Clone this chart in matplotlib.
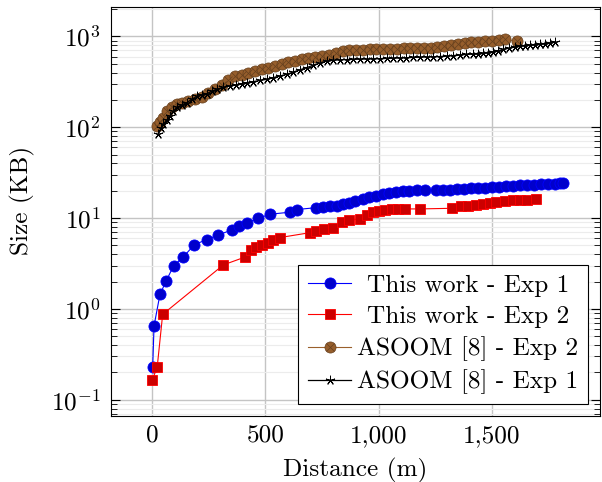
import matplotlib
matplotlib.use("Agg")
import matplotlib.pyplot as plt
from matplotlib.ticker import FuncFormatter, LogLocator, FixedLocator
from matplotlib.transforms import Affine2D
from matplotlib.legend_handler import HandlerTuple

plt.rcParams.update({
    "font.family": "serif",
    "font.serif": ["cmr10"],
    "mathtext.fontset": "cm",
    "axes.formatter.use_mathtext": True,
    "font.size": 18.2,
})

# This work - Exp 1
exp1_x = [3, 9, 35, 62, 96, 137, 187, 243, 291, 353, 385, 421, 469, 519, 609, 638,
          723, 754, 785, 815, 841, 870, 897, 929, 959, 988, 1018, 1047, 1076, 1106,
          1135, 1168, 1206, 1253, 1284, 1315, 1346, 1377, 1407, 1438, 1469, 1500,
          1531, 1562, 1593, 1624, 1654, 1685, 1716, 1747, 1778, 1800, 1813]
exp1_y = [0.23, 0.65, 1.44, 2.02, 3.0, 3.7, 5.1, 5.8, 6.5, 7.4, 8.2, 8.9, 9.9, 11.0,
          11.6, 12.4, 13.0, 13.2, 13.4, 13.7, 14.1, 14.6, 15.4, 16.3, 17.0, 17.7,
          18.6, 19.1, 19.4, 19.8, 20.0, 20.4, 20.5, 20.4, 20.5, 20.6, 20.8, 21.0,
          21.2, 21.4, 21.6, 21.8, 22.0, 22.3, 22.6, 22.9, 23.1, 23.3, 23.5, 23.7,
          24.0, 24.2, 24.3]

# This work - Exp 2
exp2_x = [1, 23, 47, 315, 412, 435, 460, 487, 510, 532, 565, 697, 723, 760, 797,
          840, 870, 918, 950, 976, 1000, 1028, 1057, 1086, 1116, 1182, 1323, 1362,
          1395, 1429, 1459, 1491, 1520, 1557, 1594, 1623, 1656, 1694]
exp2_y = [0.164, 0.23, 0.87, 3.05, 3.73, 4.46, 4.8, 5.0, 5.3, 5.7, 6.1, 6.9, 7.2,
          7.5, 7.8, 9.0, 9.4, 9.8, 10.7, 11.6, 12.1, 12.4, 12.5, 12.6, 12.6, 12.6,
          12.8, 13.4, 13.7, 13.9, 14.2, 14.6, 14.9, 15.3, 15.6, 15.8, 15.9, 16.0]

# ASOOM [8] - Exp 2
asoom2_x = [23, 35, 47, 64, 87, 109, 131, 160, 190, 219, 248, 278, 307, 337, 366,
            395, 425, 454, 484, 513, 542, 572, 601, 631, 660, 690, 720, 750, 780,
            810, 843, 870, 900, 930, 960, 990, 1020, 1050, 1080, 1110, 1140, 1170,
            1200, 1230, 1260, 1290, 1320, 1350, 1380, 1410, 1440, 1470, 1500, 1530,
            1560, 1610]
asoom2_y = [104, 115, 126, 151, 169, 178, 186, 195, 203, 216, 240, 265, 295, 330,
            365, 380, 398, 415, 433, 452, 473, 494, 516, 540, 560, 580, 600, 615,
            630, 660, 689, 700, 710, 715, 720, 728, 731, 733, 735, 738, 740, 742,
            745, 748, 760, 780, 810, 830, 850, 860, 870, 885, 895, 910, 925, 890]

# ASOOM [8] - Exp 1
asoom1_x = [28, 40, 50, 65, 79, 94, 109, 131, 153, 175, 197, 219, 241, 263, 285,
            315, 344, 370, 395, 418, 447, 476, 506, 535, 565, 594, 623, 652, 682,
            711, 741, 771, 800, 830, 859, 888, 918, 947, 977, 1006, 1035, 1065, 1094,
            1123, 1153, 1182, 1212, 1241, 1270, 1300, 1330, 1359, 1388, 1418, 1440,
            1462, 1484, 1506, 1528, 1550, 1575, 1600, 1623, 1645, 1667, 1689, 1711,
            1733, 1755, 1778]
asoom1_y = [84, 97, 108, 120, 133, 150, 165, 176, 186, 202, 218, 226, 234, 248, 262,
            274, 285, 293, 302, 310, 318, 327, 337, 352, 367, 382, 405, 428, 453, 480,
            510, 535, 545, 552, 556, 558, 561, 563, 566, 568, 571, 575, 578, 582, 586,
            590, 593, 595, 600, 607, 615, 625, 632, 638, 642, 648, 660, 678, 698, 718,
            740, 765, 781, 790, 798, 806, 815, 830, 848, 865]

x_ticks = [0, 500, 1000, 1500]
labels = ["This work - Exp 1", "This work - Exp 2", "ASOOM [8] - Exp 2", "ASOOM [8] - Exp 1"]

BROWN_LINE = "#9a602c"
BROWN_FILL = "#965e2c"
BROWN_DARK = "#66401e"

fig = plt.figure(figsize=(6.02, 4.82), dpi=100)
ax = fig.add_axes([111 / 602, 1 - 415.7 / 482, (599.5 - 111) / 602, (415.7 - 7.3) / 482])

h1, = ax.plot(exp1_x, exp1_y, color="#0000ff", lw=0.8, marker="o", ms=8.0,
              mfc="#0000cc", mec="#0000ff", mew=0.6, zorder=3)
h2, = ax.plot(exp2_x, exp2_y, color="#ff0000", lw=0.8, marker="s", ms=7.3,
              mfc="#cc0000", mec="#ff0000", mew=0.6, zorder=3)
h3, = ax.plot(asoom2_x, asoom2_y, color=BROWN_LINE, lw=0.8, marker="o", ms=8.0,
              mfc=BROWN_FILL, mec=BROWN_DARK, mew=0.5, zorder=3)
h3x, = ax.plot(asoom2_x, asoom2_y, ls="none", marker="x", ms=5.4,
               mec=BROWN_DARK, mew=0.5, zorder=3.1)
h4, = ax.plot(asoom1_x, asoom1_y, color="black", lw=0.9, marker=(5, 2, 0), ms=6.8,
              mec="black", mew=0.7, zorder=4)

ax.set_yscale("log")
ax.set_xlim(-181, 1975)
ax.set_ylim(10 ** -1.176, 10 ** 3.32)

ax.xaxis.set_major_locator(FixedLocator(x_ticks))
ax.xaxis.set_major_formatter(FuncFormatter(lambda v, p: f"{int(v):,}"))
ax.yaxis.set_major_locator(LogLocator(base=10, numticks=10))
ax.yaxis.set_minor_locator(LogLocator(base=10, subs=range(2, 10), numticks=20))

ax.grid(True, which="major", color="#c4c4c4", lw=1.0, zorder=0)
ax.grid(True, which="minor", axis="y", color="#ececec", lw=0.8, zorder=0)
ax.set_axisbelow(True)

ax.tick_params(axis="x", which="both", length=0, pad=6.5)
ax.tick_params(axis="y", which="major", direction="in", left=True, right=True,
               length=6.5, width=0.8, pad=7.5)
ax.tick_params(axis="y", which="minor", direction="in", left=True, right=True,
               length=4.2, width=0.6)
for s in ax.spines.values():
    s.set_linewidth(0.8)

ax.set_xlabel("Distance (m)")
ax.xaxis.set_label_coords(0.5, -0.104)
ax.set_ylabel("Size (KB)")
ax.yaxis.set_label_coords(-0.1556, 0.5265)

leg = ax.legend([h1, h2, (h3, h3x), h4], labels, loc="lower right",
                handler_map={tuple: HandlerTuple(ndivide=1, pad=0)},
                fancybox=False, edgecolor="black", framealpha=1,
                borderaxespad=0.46, handlelength=1.7, handletextpad=0.24,
                labelspacing=0.33, borderpad=0.38)
leg.get_frame().set_linewidth(0.8)

# centre the shorter labels within the legend's text column
fig.canvas.draw()
texts = leg.get_texts()
widths = [t.get_window_extent().width for t in texts]
wmax = max(widths)
for t, w in zip(texts, widths):
    t.set_transform(Affine2D().translate((wmax - w) / 2, 0) + t.get_transform())

fig.savefig("out.png", dpi=100)
